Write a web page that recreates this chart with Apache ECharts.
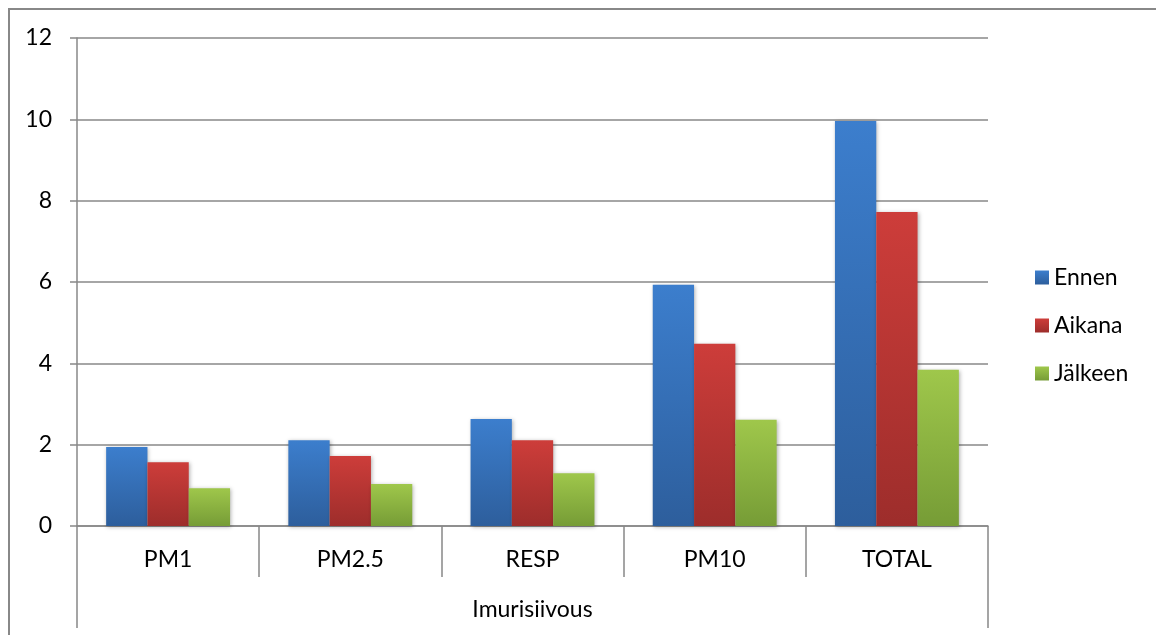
<!DOCTYPE html>
<html>
<head>
<meta charset="utf-8">
<script src="https://cdn.jsdelivr.net/npm/echarts@6/dist/echarts.min.js"></script>
<style>
html,body{margin:0;padding:0;background:#fff;}
#chart{width:1156px;height:635px;}
</style>
</head>
<body>
<div id="chart"></div>
<script>
const categories = ['PM1', 'PM2.5', 'RESP', 'PM10', 'TOTAL'];
const groupLabels = ['Imurisiivous'];
const seriesNames = ['Ennen', 'Aikana', 'Jälkeen'];
const ennen = [1.94, 2.11, 2.63, 5.93, 9.96];
const aikana = [1.57, 1.72, 2.11, 4.48, 7.72];
const jalkeen = [0.93, 1.03, 1.30, 2.61, 3.84];
const yTicks = { min: 0, max: 12, interval: 2 };

const FONT = 'Lato';
const FS = 23;
const GRAY = '#888888';

function grad(top, bottom) {
  return new echarts.graphic.LinearGradient(0, 0, 0, 1, [
    { offset: 0, color: top },
    { offset: 1, color: bottom }
  ]);
}
const colors = [
  grad('#3c7ecd', '#2d5e9c'),
  grad('#cd3d3a', '#9d2d2b'),
  grad('#9fc74b', '#769c36')
];
const seriesData = [ennen, aikana, jalkeen];

const chart = echarts.init(document.getElementById('chart'));
chart.setOption({
  animation: false,
  backgroundColor: '#ffffff',
  textStyle: { fontFamily: FONT },
  graphic: [{
    type: 'rect',
    shape: { x: 9, y: 9, width: 1300, height: 800 },
    style: { fill: 'none', stroke: GRAY, lineWidth: 2 },
    silent: true
  }],
  grid: { left: 77, right: 168, top: 38, bottom: 109 },
  legend: {
    orient: 'vertical',
    left: 1030,
    top: 261,
    itemWidth: 14,
    itemHeight: 14,
    itemGap: 25,
    icon: 'rect',
    textStyle: { fontFamily: FONT, fontSize: FS, color: '#000' },
    data: seriesNames
  },
  xAxis: [{
    type: 'category',
    data: categories,
    axisLine: { show: true, lineStyle: { color: GRAY, width: 1.5 } },
    axisTick: { show: true, length: 51, alignWithLabel: false, lineStyle: { color: GRAY, width: 1.5 } },
    axisLabel: { fontFamily: FONT, fontSize: FS, color: '#000', margin: 22, interval: 0 }
  }, {
    type: 'category',
    data: groupLabels,
    position: 'bottom',
    offset: 51,
    axisLine: { show: false },
    axisTick: { show: true, length: 51, alignWithLabel: false, lineStyle: { color: GRAY, width: 1.5 } },
    axisLabel: { fontFamily: FONT, fontSize: FS, color: '#000', margin: 21 },
    splitLine: { show: false }
  }],
  yAxis: {
    type: 'value',
    min: yTicks.min,
    max: yTicks.max,
    interval: yTicks.interval,
    axisLine: { show: true, lineStyle: { color: GRAY, width: 1.5 } },
    axisTick: { show: true, length: 7, lineStyle: { color: GRAY, width: 1.5 } },
    axisLabel: { fontFamily: FONT, fontSize: FS, color: '#000', margin: 25 },
    splitLine: { show: true, lineStyle: { color: GRAY, width: 1.5 } }
  },
  series: seriesNames.map((name, i) => ({
    name: name,
    type: 'bar',
    xAxisIndex: 0,
    data: seriesData[i],
    barGap: '0%',
    barCategoryGap: '32%',
    itemStyle: {
      color: colors[i],
      shadowBlur: 4,
      shadowColor: 'rgba(0,0,0,0.3)',
      shadowOffsetX: 1,
      shadowOffsetY: 1
    }
  }))
});
</script>
</body>
</html>
